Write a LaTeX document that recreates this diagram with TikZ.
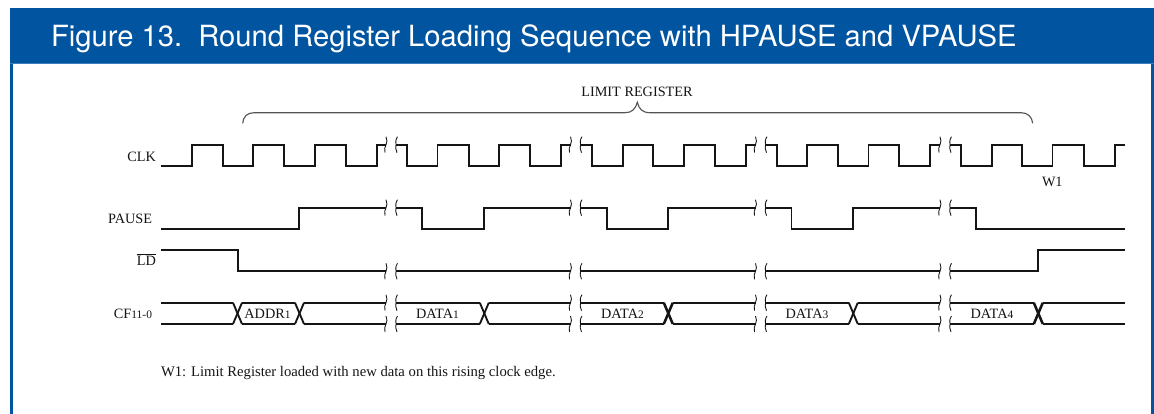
\documentclass[tikz,border=0pt]{standalone}
\usepackage{fontspec}
\setmainfont{Liberation Serif}
\newfontfamily\headfont{TeX Gyre Heros}
\definecolor{frameblue}{HTML}{0054A0}
\definecolor{headline}{HTML}{3A7CBC}
\definecolor{ink}{HTML}{151515}
\definecolor{bracegray}{HTML}{555555}
\newcommand{\lowfig}[1]{{\fontsize{8.6pt}{9pt}\selectfont #1}}
\tikzset{
  x=0.75pt,y=-0.75pt,
  sig/.style={draw=ink,line width=1.4pt,line join=miter},
  thinsig/.style={draw=ink,line width=1.3pt},
  heavyx/.style={draw=ink,line width=1.9pt},
  squig/.style={draw=ink,line width=0.65pt},
  lbl/.style={inner sep=0pt,outer sep=0pt,text=ink,font=\fontsize{10.7pt}{12pt}\selectfont},
  brc/.style={draw=bracegray,line width=0.85pt}
}
\newcommand{\breakpair}[2]{%
  \draw[squig] (#1+0.5,#2-8) .. controls (#1+2,#2-5) and (#1+1.5,#2-2) .. (#1+0.5,#2) .. controls (#1-0.5,#2+2) and (#1-1.5,#2+5) .. (#1-0.5,#2+8);
  \draw[squig] (#1+12,#2-8) .. controls (#1+10,#2-5) and (#1+10,#2-2) .. (#1+10.5,#2) .. controls (#1+10,#2+2) and (#1+10,#2+5) .. (#1+11.5,#2+8);
}
\newcommand{\allbreaks}[1]{\breakpair{385.5}{#1}\breakpair{570}{#1}\breakpair{755}{#1}\breakpair{939.5}{#1}}
\begin{document}
\begin{tikzpicture}
\useasboundingbox (0,0) rectangle (1154,414);
% frame
\fill[frameblue] (10,8) rectangle (1154,414);
\fill[white] (13,64) rectangle (1151,414);
\draw[headline,line width=0.5pt] (10,63.5) -- (1154,63.5);
\node[lbl,anchor=base west,text=white,font=\headfont\fontsize{21.9pt}{24pt}\selectfont] (title) at (51,46) {Figure 13.\ \ Round Register Loading Sequence with HPAUSE and VPAUSE};
% brace
\draw[brc] (242.7,123.3) .. controls (243,117) and (247,112.7) .. (254,112.7) -- (625,112.7) .. controls (632,112.7) and (635.5,109) .. (637.3,102.3) .. controls (639,109) and (642.5,112.7) .. (650,112.7) -- (1021,112.7) .. controls (1028,112.7) and (1032,117) .. (1032.7,123.3);
\node[lbl,anchor=base] (lim) at (637,96) {LIMIT REGISTER};
% signal labels
\node[lbl,anchor=base east] (clk) at (156,161) {CLK};
\node[lbl,anchor=base east] (pause) at (152,223.5) {PAUSE};
\node[lbl,anchor=base east] (ld) at (156,265.5) {$\overline{\hbox{LD}}$};
\node[lbl,anchor=base east] (cf) at (152,318.5) {CF\lowfig{11-0}};
\node[lbl,anchor=base] (addr) at (267.5,318.5) {ADDR\lowfig{1}};
\node[lbl,anchor=base] (d1) at (437.5,318.5) {DATA\lowfig{1}};
\node[lbl,anchor=base] (d2) at (622.5,318.5) {DATA\lowfig{2}};
\node[lbl,anchor=base] (d3) at (807,318.5) {DATA\lowfig{3}};
\node[lbl,anchor=base] (d4) at (992,318.5) {DATA\lowfig{4}};
\node[lbl,anchor=base west] (w1) at (1042,186) {W1};
\node[lbl,anchor=base west,font=\fontsize{11pt}{12pt}\selectfont] (note) at (161,376.5) {W1: Limit Register loaded with new data on this rising clock edge.};
% CLK
\def\hi{144.7}\def\lo{165.7}
\draw[sig] (161,\lo) -- (191.7,\lo) -- (191.7,\hi) -- (222.7,\hi) -- (222.7,\lo) -- (253.3,\lo) -- (253.3,\hi) -- (284,\hi) -- (284,\lo) -- (315,\lo) -- (315,\hi) -- (345.7,\hi) -- (345.7,\lo) -- (376.7,\lo) -- (376.7,\hi) -- (386,\hi);
\draw[sig] (396,\hi) -- (406.7,\hi) -- (406.7,\lo) -- (437.5,\lo) -- (437.5,\hi) -- (468.7,\hi) -- (468.7,\lo) -- (499.3,\lo) -- (499.3,\hi) -- (530,\hi) -- (530,\lo) -- (560.7,\lo) -- (560.7,\hi) -- (570.5,\hi);
\draw[sig] (580.5,\hi) -- (591.7,\hi) -- (591.7,\lo) -- (622.7,\lo) -- (622.7,\hi) -- (653.3,\hi) -- (653.3,\lo) -- (684,\lo) -- (684,\hi) -- (715,\hi) -- (715,\lo) -- (745.7,\lo) -- (745.7,\hi) -- (755.5,\hi);
\draw[sig] (765.5,\hi) -- (776.7,\hi) -- (776.7,\lo) -- (807.3,\lo) -- (807.3,\hi) -- (838.3,\hi) -- (838.3,\lo) -- (868.5,\lo) -- (868.5,\hi) -- (899.3,\hi) -- (899.3,\lo) -- (930,\lo) -- (930,\hi) -- (940,\hi);
\draw[sig] (950,\hi) -- (960.7,\hi) -- (960.7,\lo) -- (991.7,\lo) -- (991.7,\hi) -- (1022.3,\hi) -- (1022.3,\lo) -- (1052.5,\lo) -- (1052.5,\hi) -- (1084,\hi) -- (1084,\lo) -- (1115,\lo) -- (1115,\hi) -- (1125,\hi);
\allbreaks{144.7}
% PAUSE
\def\hi{207.7}\def\lo{229}
\draw[sig] (161,\lo) -- (299,\lo) -- (299,\hi) -- (386,\hi);
\draw[sig] (396,\hi) -- (422.3,\hi) -- (422.3,\lo) -- (484,\lo) -- (484,\hi) -- (570.5,\hi);
\draw[sig] (580.5,\hi) -- (607.3,\hi) -- (607.3,\lo) -- (668.3,\lo) -- (668.3,\hi) -- (755.5,\hi);
\draw[sig] (765.5,\hi) -- (791.5,\hi) -- (791.5,\lo) -- (852.7,\lo) -- (852.7,\hi) -- (940,\hi);
\draw[sig] (950,\hi) -- (976,\hi) -- (976,\lo) -- (1125,\lo);
\allbreaks{207.7}
% LD
\def\hi{250}\def\lo{271.3}
\draw[thinsig] (161,\hi) -- (237.7,\hi) -- (237.7,\lo) -- (386,\lo);
\draw[thinsig] (396,\lo) -- (570.5,\lo);
\draw[thinsig] (580.5,\lo) -- (755.5,\lo);
\draw[thinsig] (765.5,\lo) -- (940,\lo);
\draw[thinsig] (950,\lo) -- (1037.7,\lo) -- (1037.7,\hi) -- (1125,\hi);
\allbreaks{271.3}
% CF bus
\def\hi{302.7}\def\lo{324}
\foreach \xa/\xb in {161/233,242/295,304/386,396/479.5,489/570.5,580.5/663.5,673/755.5,765.5/848.5,858/940,950/1033.5,1043/1125}{
  \draw[sig] (\xa,\hi) -- (\xb,\hi);
  \draw[sig] (\xa,\lo) -- (\xb,\lo);
}
\foreach \c in {237.5,299.5,484.3,853.3}{
  \draw[sig] (\c-4.5,\hi) -- (\c+4.5,\lo);
  \draw[sig] (\c-4.5,\lo) -- (\c+4.5,\hi);
}
\foreach \c in {668.3,1038.3}{
  \draw[heavyx] (\c-4.5,\hi) -- (\c+4.5,\lo);
  \draw[heavyx] (\c-4.5,\lo) -- (\c+4.5,\hi);
}
\allbreaks{302.7}
\allbreaks{324}
\end{tikzpicture}
\end{document}
